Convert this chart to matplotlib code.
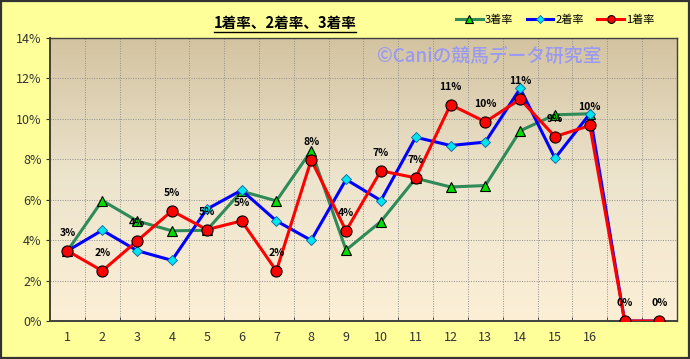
import numpy as np
import matplotlib
matplotlib.use("Agg")
import matplotlib.pyplot as plt
from matplotlib.colors import LinearSegmentedColormap
from matplotlib.lines import Line2D
from matplotlib.patches import Rectangle

plt.rcParams['font.family'] = ['Noto Sans CJK JP', 'DejaVu Sans']

# --- data (percent) ---------------------------------------------------------
categories = list(range(1, 19))
tick_labels = [str(i) for i in range(1, 17)] + ["", ""]
win_rate = [3.47, 2.48, 3.96, 5.45, 4.52, 4.95, 2.48, 7.97, 4.46,
            7.43, 7.08, 10.7, 9.85, 10.97, 9.12, 9.67, 0.0, 0.0]
place2_rate = [3.47, 4.49, 3.48, 3.0, 5.53, 6.47, 4.95, 3.99, 7.0,
               5.96, 9.09, 8.68, 8.85, 11.5, 8.05, 10.25, 0.0, 0.0]
place3_rate = [3.47, 5.96, 4.95, 4.46, 4.49, 6.42, 5.94, 8.43, 3.51,
               4.92, 7.06, 6.63, 6.7, 9.41, 10.2, 10.25, np.nan, np.nan]

GREEN, BLUE, RED = "#2E8B57", "#0000FF", "#FF0000"

fig = plt.figure(figsize=(6.9, 3.59), dpi=100)
fig.patch.set_facecolor("#FFFF99")
fig.patches.append(Rectangle((0.002, 0.003), 0.996, 0.994, transform=fig.transFigure,
                             fill=False, edgecolor="#333333", linewidth=1.6))

ax = fig.add_axes([0.0725, 0.1058, 0.9085, 0.7885])

# background gradient of the plot area
cmap = LinearSegmentedColormap.from_list("bg", ["#FCEFD6", "#EDE4CD", "#D3C3A0"])
grad = np.linspace(0, 1, 256).reshape(-1, 1)
ax.imshow(grad, cmap=cmap, aspect="auto", origin="lower", extent=[0, 1, 0, 1],
          transform=ax.transAxes, zorder=0)

x = np.array(categories)
ax.plot(x, place3_rate, color=GREEN, lw=2.2, marker="^", ms=7.5,
        mfc="#00DD00", mec="black", mew=0.8, zorder=3, label="3着率")
ax.plot(x, place2_rate, color=BLUE, lw=2.2, marker="D", ms=5.5,
        mfc="#00E5EE", mec="#1060A0", mew=0.6, zorder=4, label="2着率")
ax.plot(x, win_rate, color=RED, lw=2.2, marker="o", ms=8,
        mfc="#FF0000", mec="black", mew=0.8, zorder=5, label="1着率")

for xi, v in zip(x, win_rate):
    ax.annotate(f"{v:.0f}%", (xi, v), xytext=(0, 13), textcoords="offset points",
                ha="center", va="center", fontsize=7.5, fontweight="bold", zorder=6)

ax.set_xlim(0.5, 18.5)
ax.set_ylim(0, 14)
ax.set_xticks(x)
ax.set_xticklabels(tick_labels)
ax.set_xticks(np.arange(0.5, 18.6, 1), minor=True)
ax.set_yticks(np.arange(0, 15, 2))
ax.set_yticklabels([f"{v}%" for v in range(0, 15, 2)])
ax.tick_params(axis="x", which="major", length=0, pad=7, labelsize=9, labelcolor="#333333")
ax.tick_params(axis="x", which="minor", length=3, direction="in", color="#333333")
ax.tick_params(axis="y", length=3, color="#333333", pad=3, labelsize=9, labelcolor="#333333")
ax.grid(which="minor", axis="x", color="#909090", ls=(0, (1, 1.5)), lw=0.7)
ax.grid(which="major", axis="y", color="#909090", ls=(0, (1, 1.5)), lw=0.7)
ax.set_axisbelow(True)
for s in ax.spines.values():
    s.set_color("#404040")
    s.set_linewidth(1.0)
ax.spines["left"].set_linewidth(1.4)
ax.spines["bottom"].set_linewidth(1.4)

ax.text(0.70, 0.935, "©Caniの競馬データ研究室", transform=ax.transAxes,
        ha="center", va="center", fontsize=13.5, fontweight="medium",
        color="#9A9AF2", zorder=2)

# title with underline
title = fig.text(0.413, 0.937, "1着率、2着率、3着率", ha="center", va="center",
                 fontsize=10.5, fontweight="bold")
fig.canvas.draw()
bb = title.get_window_extent().transformed(fig.transFigure.inverted())
fig.add_artist(Line2D([bb.x0, bb.x1], [bb.y0 - 0.004, bb.y0 - 0.004],
                      transform=fig.transFigure, color="black", lw=1.0))

handles, labels = ax.get_legend_handles_labels()
fig.legend(handles, labels, loc="center", bbox_to_anchor=(0.805, 0.944), ncol=3,
           frameon=False, fontsize=8, handlelength=2.4, handletextpad=0.2,
           columnspacing=1.2, markerscale=0.7)

fig.savefig("out.png", dpi=100, facecolor=fig.get_facecolor())
